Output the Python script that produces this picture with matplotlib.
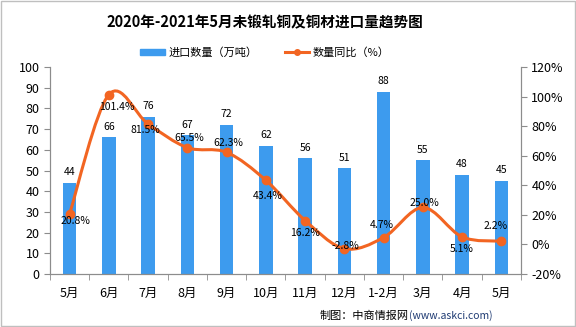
import matplotlib
matplotlib.use('Agg')
import matplotlib.pyplot as plt
from matplotlib.path import Path
from matplotlib.patches import PathPatch, Patch, Rectangle
from matplotlib.lines import Line2D

plt.rcParams['font.family'] = ['Noto Sans CJK SC', 'DejaVu Sans']

months = ['5月', '6月', '7月', '8月', '9月', '10月', '11月', '12月', '1-2月', '3月', '4月', '5月']
volume = [44, 66, 76, 67, 72, 62, 56, 51, 88, 55, 48, 45]
yoy = [20.8, 101.4, 81.5, 65.5, 62.3, 43.4, 16.2, -2.8, 4.7, 25.0, 5.1, 2.2]
# label offsets (points) for the percent labels, as placed in the original
yoy_offsets = [(4, -5), (6, -9), (-2, -4), (1, 7), (1, 7), (1, -11),
               (0, -9), (1, 2), (-1, 9), (1, 3), (0, -9), (-4, 11)]

bar_color = '#3D9BEE'
line_color = '#F26522'
axis_color = '#8C8C8C'

fig = plt.figure(figsize=(5.76, 3.27), dpi=100)
ax = fig.add_axes([0.0868, 0.162, 0.8177, 0.633])
ax2 = ax.twinx()

x = list(range(len(months)))
ax.bar(x, volume, width=0.34, color=bar_color, zorder=2)
for xi, v in zip(x, volume):
    ax.annotate(f'{v}', (xi, v), xytext=(0, 4), textcoords='offset points',
                ha='center', va='bottom', fontsize=7.5)

# smoothed line (cubic Bezier through the points, like a spreadsheet smooth line)
pts = list(zip(x, yoy))
verts = [pts[0]]
codes = [Path.MOVETO]
n = len(pts)
for i in range(n - 1):
    p0 = pts[i - 1] if i > 0 else pts[i]
    p1 = pts[i]
    p2 = pts[i + 1]
    p3 = pts[i + 2] if i + 2 < n else pts[i + 1]
    c1 = (p1[0] + (p2[0] - p0[0]) / 6, p1[1] + (p2[1] - p0[1]) / 6)
    c2 = (p2[0] - (p3[0] - p1[0]) / 6, p2[1] - (p3[1] - p1[1]) / 6)
    verts += [c1, c2, p2]
    codes += [Path.CURVE4] * 3
ax2.add_patch(PathPatch(Path(verts, codes), fill=False, edgecolor=line_color,
                        lw=2.2, zorder=3))
ax2.plot(x, yoy, linestyle='none', marker='o', markersize=6, color=line_color, zorder=4)
for xi, v, off in zip(x, yoy, yoy_offsets):
    ax2.annotate(f'{v:.1f}%', (xi, v), xytext=off, textcoords='offset points',
                 ha='center', va='center', fontsize=7.5, zorder=5)

ax.set_xlim(-0.5, len(months) - 0.5)
ax.set_ylim(0, 100)
ax.set_yticks(range(0, 101, 10))
ax2.set_ylim(-20, 120)
ax2.set_yticks(range(-20, 121, 20))
ax2.set_yticklabels([f'{t}%' for t in range(-20, 121, 20)])

ax.set_xticks(x)
ax.set_xticklabels(months)
ax.set_xticks([i + 0.5 for i in range(-1, len(months))], minor=True)
ax.tick_params(axis='x', which='major', length=0, labelsize=9, pad=9)
ax.tick_params(axis='x', which='minor', length=4, color=axis_color)
ax.tick_params(axis='y', labelsize=9, length=4, color=axis_color)
ax2.tick_params(axis='y', labelsize=9, length=4, color=axis_color)

for a in (ax, ax2):
    a.spines['top'].set_visible(False)
    for s in ('left', 'right', 'bottom'):
        a.spines[s].set_color(axis_color)

fig.suptitle('2020年-2021年5月未锻轧铜及铜材进口量趋势图', x=0.46, y=0.955,
             fontsize=10.5, fontweight='bold')

handles = [Patch(color=bar_color),
           Line2D([], [], color=line_color, lw=2.2, marker='o', markersize=4)]
fig.legend(handles, ['进口数量（万吨）', '数量同比（%）'], loc='center',
           bbox_to_anchor=(0.46, 0.84), ncol=2, frameon=False, fontsize=8,
           handlelength=2.2, handleheight=0.5, columnspacing=2.5, handletextpad=0.3)

fig.text(0.555, 0.034, '制图：中商情报网', fontsize=8, ha='left', va='center')
fig.text(0.71, 0.034, '(www.askci.com)', fontsize=7.5, ha='left', va='center',
         color='#1F3B73')

fig.patches.append(Rectangle((0.001, 0.002), 0.997, 0.995, transform=fig.transFigure,
                             fill=False, edgecolor='#BFBFBF', lw=1))

fig.savefig('out.png', dpi=100)
